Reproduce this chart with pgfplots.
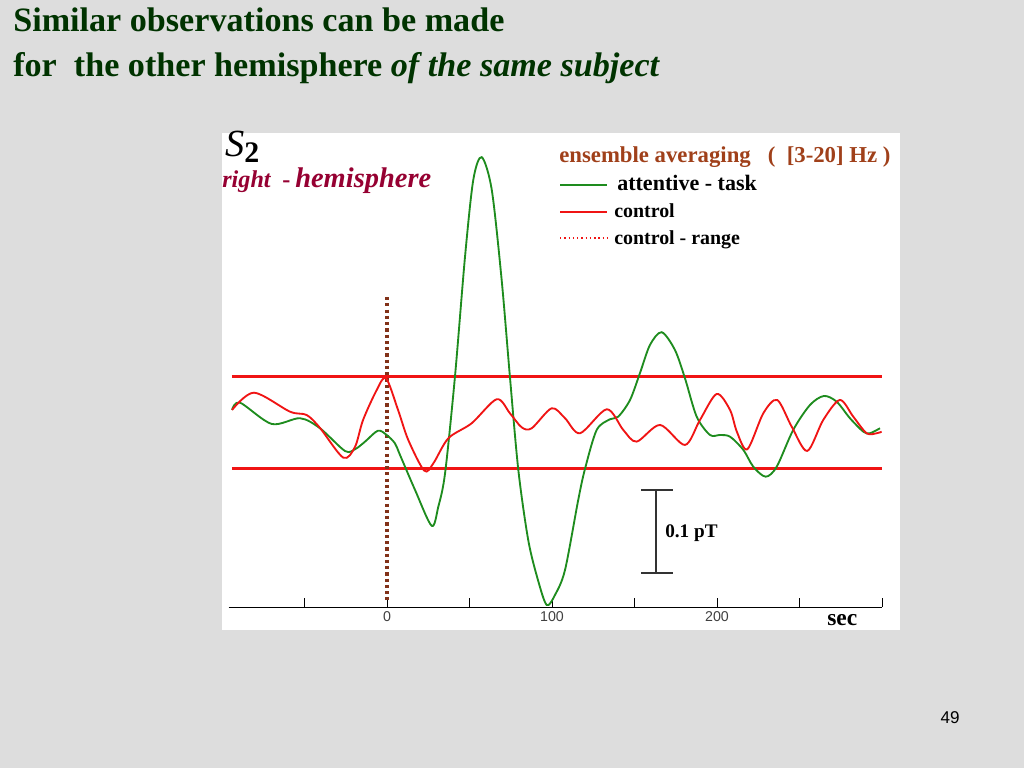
\documentclass[border=0pt]{standalone}
\usepackage{pgfplots}
\pgfplotsset{compat=1.18}
\usepackage{fontspec}
\setmainfont{Liberation Serif}
\newfontfamily\arial{Liberation Sans}
\definecolor{slidebg}{RGB}{221,221,221}
\definecolor{titlegreen}{RGB}{0,51,0}
\definecolor{maroon}{RGB}{150,0,50}
\definecolor{legbrown}{RGB}{160,64,26}
\definecolor{curvegreen}{RGB}{30,140,30}
\definecolor{curvered}{RGB}{240,20,20}
\definecolor{stimbrown}{RGB}{130,50,25}
\begin{document}
\begin{tikzpicture}
% background and white panel, in pixel coordinates
\begin{scope}[x=0.703125pt, y=-0.703125pt, shift={(0pt,540pt)}]
  \fill[slidebg] (0,0) rectangle (1024,768);
  \fill[white] (222,133) rectangle (900,630);
\end{scope}
\useasboundingbox (0pt,0pt) rectangle (720pt,540pt);

\begin{axis}[
  at={(160.73pt,113.20pt)}, anchor=south west, scale only axis,
  width=459.4pt, height=328.2pt,
  xmin=-96, xmax=300, ymin=-222.3, ymax=340,
  axis x line=bottom, axis y line=none,
  axis line style={black, line width=0.6pt, -},
  xtick={-50,0,50,100,150,200,250,300},
  xticklabels={,0,,100,,200,,},
  tick align=inside, major tick length=6.3pt,
  tick style={black, line width=0.6pt},
  xticklabel style={font=\arial\fontsize{10}{10}\selectfont, text=black!75},
  /pgf/number format/assume math mode=true,
  clip=false,
]
% control range
\addplot[curvered, line width=2pt] coordinates {(-94,55) (300,55)};
\addplot[curvered, line width=2pt] coordinates {(-94,-55) (300,-55)};
% stimulus onset
\addplot[stimbrown, line width=2.4pt, dash pattern=on 2.2pt off 2.2pt] coordinates {(0,151) (0,-214)};
% attentive task
\addplot[curvegreen, line width=1.3pt, smooth] coordinates {
(-93.9,15.1) (-89.1,23.9) (-69.9,-1.8) (-52.7,5.1) (-40.6,-7.0)
(-25.5,-34.3) (-19.4,-32.3) (-13.3,-23.1) (-5.5,-9.9) (-0.2,-15.1)
(4.8,-25.1) (7.9,-39.2) (17.0,-81.3) (27.1,-124.5) (31.1,-101.5)
(35.2,-61.2) (41.2,55.2) (47.3,199.8) (52.3,292.2) (57.4,319.6)
(63.5,280.2) (69.5,171.7) (74.5,55.2) (79.6,-57.2) (85.6,-141.6)
(91.5,-189.8) (96.8,-219.9) (101.8,-207.9) (107.9,-177.7) (115.9,-93.4)
(120.0,-56.0) (127.1,-9.0) (135.2,3.9) (140.2,7.0) (147.3,27.1)
(153.3,59.3) (159.4,93.4) (166.5,108.7) (174.5,87.4) (180.6,53.3)
(187.7,7.0) (195.8,-15.1) (201.8,-15.1) (207.9,-17.1) (216.0,-33.1)
(222.0,-53.3) (229.5,-65.3) (236.2,-53.3) (246.2,-9.0) (256.4,21.1)
(264.8,31.9) (272.5,25.1) (280.6,5.1) (288.7,-11.1) (292.7,-13.0)
(298.8,-7.0)
};
% control
\addplot[curvered, line width=1.3pt, smooth] coordinates {
(-93.9,15.1) (-80.6,35.9) (-58.8,13.0) (-48.7,9.0) (-40.6,-6.6)
(-26.5,-42.4) (-19.4,-29.5) (-14.5,3.0) (-6.2,39.2) (-0.6,53.3)
(6.7,15.1) (12.9,-21.1) (22.6,-58.1) (28.1,-49.2) (37.2,-19.0)
(51.3,-1.0) (66.5,28.0) (74.5,11.1) (81.6,-5.8) (87.7,-7.0)
(99.8,17.1) (107.9,5.1) (117.0,-13.0) (133.2,15.9) (143.2,-9.0)
(151.3,-23.1) (165.5,-3.0) (180.6,-27.1) (189.7,3.0) (199.8,34.3)
(207.9,15.1) (212.1,-11.4) (218.4,-32.3) (228.1,11.1) (236.5,27.1)
(245.3,-5.1) (254.7,-34.3) (264.4,3.0) (274.5,27.1) (282.6,7.0)
(290.7,-13.0) (296.8,-13.0) (299.8,-11.1)
};
\end{axis}

% texts, legend and scale bar, in pixel coordinates
\begin{scope}[x=0.703125pt, y=-0.703125pt, shift={(0pt,540pt)}]
  \node[anchor=base west, inner sep=0pt, text=titlegreen, font=\bfseries\fontsize{24}{24}\selectfont]
    at (13,32) {Similar observations can be made};
  \node[anchor=base west, inner sep=0pt, text=titlegreen, font=\bfseries\fontsize{24}{24}\selectfont]
    at (13,77) {for\ \ the other hemisphere \textit{of the same subject}};

  \node[anchor=base west, inner sep=0pt, font=\fontsize{27}{27}\selectfont]
    at (225,157) {\textit{S}\raisebox{-0.15em}{\bfseries\fontsize{21}{21}\selectfont 2}};
  \node[anchor=base west, inner sep=0pt, text=maroon, font=\bfseries\itshape\fontsize{17}{17}\selectfont]
    at (222,188) {right};
  \node[anchor=base west, inner sep=0pt, text=maroon, font=\bfseries\fontsize{17}{17}\selectfont]
    at (282,188) {-};
  \node[anchor=base west, inner sep=0pt, text=maroon, font=\bfseries\itshape\fontsize{20}{20}\selectfont]
    at (295,188) {hemisphere};

  \node[anchor=base west, inner sep=0pt, text=legbrown, font=\bfseries\fontsize{16}{16}\selectfont]
    at (559,163) {ensemble averaging\ \ \ (\ \ [3-20] Hz )};
  \draw[curvegreen, line width=1.3pt] (560,185) -- (607,185);
  \node[anchor=base west, inner sep=0pt, font=\bfseries\fontsize{15.5}{15.5}\selectfont]
    at (617,191) {attentive - task};
  \draw[curvered, line width=1.3pt] (560,212) -- (607,212);
  \node[anchor=base west, inner sep=0pt, font=\bfseries\fontsize{14}{14}\selectfont]
    at (614,218) {control};
  \draw[curvered, line width=1pt, dotted] (560,238) -- (607,238);
  \node[anchor=base west, inner sep=0pt, font=\bfseries\fontsize{14}{14}\selectfont]
    at (614,245) {control - range};

  \draw[black!80, line width=0.9pt] (641,490) -- (673,490) (656,490) -- (656,573) (641,573) -- (673,573);
  \node[anchor=base west, inner sep=0pt, font=\bfseries\fontsize{13.5}{13.5}\selectfont]
    at (665,538) {0.1 pT};

  \node[anchor=base west, inner sep=0pt, font=\bfseries\fontsize{16.5}{16.5}\selectfont]
    at (827,626) {sec};

  \node[anchor=base, inner sep=0pt, font=\arial\fontsize{12}{12}\selectfont]
    at (950,724) {49};
\end{scope}
\end{tikzpicture}
\end{document}
